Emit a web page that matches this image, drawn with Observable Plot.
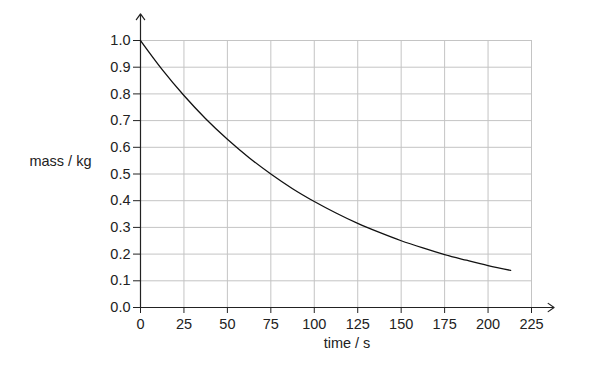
<!DOCTYPE html>
<html>
<head>
<meta charset="utf-8">
<script src="https://cdn.jsdelivr.net/npm/d3@7"></script>
<script src="https://cdn.jsdelivr.net/npm/@observablehq/plot@0.6"></script>
<style>
  html, body { margin: 0; padding: 0; background: #fff; }
  #chart { width: 590px; height: 366px; }
</style>
</head>
<body>
<div id="chart"></div>
<script>
// Data
const timeValues = [0, 12.5, 25, 37.5, 50, 62.5, 75, 87.5, 100, 112.5, 125, 137.5, 150, 162.5, 175, 187.5, 200, 213];
const massValues = [1.0, 0.891, 0.794, 0.707, 0.630, 0.561, 0.500, 0.445, 0.397, 0.354, 0.315, 0.281, 0.250, 0.223, 0.198, 0.177, 0.157, 0.139];
const xTicks = [0, 25, 50, 75, 100, 125, 150, 175, 200, 225];
const yTicks = [0.0, 0.1, 0.2, 0.3, 0.4, 0.5, 0.6, 0.7, 0.8, 0.9, 1.0];
const xLabel = "time / s";
const yLabel = "mass / kg";
// axis arrow end points (data units)
const xAxisEnd = 238;
const yAxisEnd = 1.1;

const curve = timeValues.map((t, i) => ({time: t, mass: massValues[i]}));
const axes = [
  {x1: 0, y1: 0, x2: xAxisEnd, y2: 0},
  {x1: 0, y1: 0, x2: 0, y2: yAxisEnd}
];

const FS = 14.5;
const chart = Plot.plot({
  width: 590,
  height: 366,
  marginLeft: 140,
  marginRight: 59,
  marginTop: 40,
  marginBottom: 59,
  style: {fontFamily: "'Liberation Sans', Arial, sans-serif", fontSize: FS + "px", color: "#222", background: "#fff"},
  x: {domain: [0, 225]},
  y: {domain: [0, 1]},
  marks: [
    Plot.gridX(xTicks, {stroke: "#c4c4c4", strokeOpacity: 1, strokeWidth: 1}),
    Plot.gridY(yTicks, {stroke: "#c4c4c4", strokeOpacity: 1, strokeWidth: 1}),
    Plot.axisX(xTicks, {tickSize: 6, tickPadding: 5, label: null, fontSize: FS}),
    Plot.axisY(yTicks, {tickSize: 7, tickPadding: 3, tickFormat: d3.format(".1f"), label: null, fontSize: FS}),
    Plot.arrow(axes, {x1: "x1", y1: "y1", x2: "x2", y2: "y2", stroke: "#222", strokeWidth: 1.2, headLength: 9, headAngle: 70}),
    Plot.line(curve, {x: "time", y: "mass", stroke: "#111", strokeWidth: 1.3, curve: "monotone-x"}),
    Plot.text([xLabel], {frameAnchor: "bottom", dy: 40, dx: 11, fontSize: FS, fill: "#222"}),
    Plot.text([yLabel], {frameAnchor: "left", textAnchor: "end", dx: -49, dy: -13, fontSize: FS, fill: "#222"})
  ]
});
document.getElementById("chart").appendChild(chart);
</script>
</body>
</html>
